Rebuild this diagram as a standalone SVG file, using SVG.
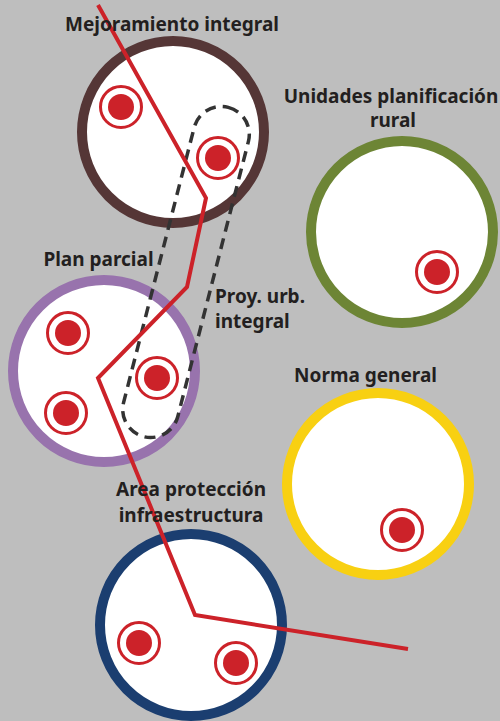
<svg xmlns="http://www.w3.org/2000/svg" width="500" height="721" viewBox="0 0 500 721">
  <defs>
    <style>
      .ring { fill: #ffffff; stroke-width: 10; }
      .lbl { font-family: "Noto Sans", "Open Sans", "Liberation Sans", sans-serif; font-weight: bold; font-size: 19px; fill: #231f20; text-anchor: middle; }
      .lbl-l { text-anchor: start; }
      .red { fill: none; stroke: #cc2229; stroke-width: 4; stroke-linejoin: miter; }
      .dash { fill: none; stroke: #333333; stroke-width: 3.5; stroke-dasharray: 11 7; stroke-linecap: butt; }
    </style>
    <g id="target">
      <circle r="20.5" fill="#ffffff" stroke="#cc2229" stroke-width="3"/>
      <circle r="13" fill="#cc2229"/>
    </g>
  </defs>

  <rect x="0" y="0" width="500" height="721" fill="#bebebe"/>

  <g id="mejoramiento-integral">
    <circle class="ring" cx="173" cy="132" r="91" stroke="#553636"/>
    <use href="#target" x="121" y="107"/>
    <use href="#target" x="218" y="158"/>
  </g>

  <g id="unidades-planificacion-rural">
    <circle class="ring" cx="402" cy="232" r="91" stroke="#6d8535"/>
    <use href="#target" x="437" y="272"/>
  </g>

  <g id="plan-parcial">
    <circle class="ring" cx="104" cy="371" r="91" stroke="#9873ad"/>
    <use href="#target" x="68" y="333"/>
    <use href="#target" x="66" y="413"/>
    <use href="#target" x="157" y="378"/>
  </g>

  <g id="norma-general">
    <circle class="ring" cx="378" cy="484" r="91" stroke="#f8d012"/>
    <use href="#target" x="402" y="530"/>
  </g>

  <g id="area-proteccion-infraestructura">
    <circle class="ring" cx="191" cy="625" r="91" stroke="#1b3e70"/>
    <use href="#target" x="139" y="643"/>
    <use href="#target" x="236" y="663"/>
  </g>

  <g id="proy-urb-integral">
    <rect class="dash" x="158" y="102" width="56" height="340" rx="28" ry="28" transform="rotate(14.4 186 272)"/>
  </g>

  <g id="connectors">
    <polyline class="red" points="98,5 206,198 187,287 98,378 195,615 408,649"/>
  </g>

  <g id="labels">
    <text class="lbl" x="172" y="31">Mejoramiento integral</text>
    <text class="lbl" x="391" y="103">Unidades planificación</text>
    <text class="lbl" x="393" y="127">rural</text>
    <text class="lbl" x="98.5" y="266">Plan parcial</text>
    <text class="lbl lbl-l" x="215" y="303">Proy. urb.</text>
    <text class="lbl lbl-l" x="215" y="328">integral</text>
    <text class="lbl" x="365.5" y="382">Norma general</text>
    <text class="lbl" x="191" y="496">Area protección</text>
    <text class="lbl" x="191" y="522">infraestructura</text>
  </g>
</svg>
